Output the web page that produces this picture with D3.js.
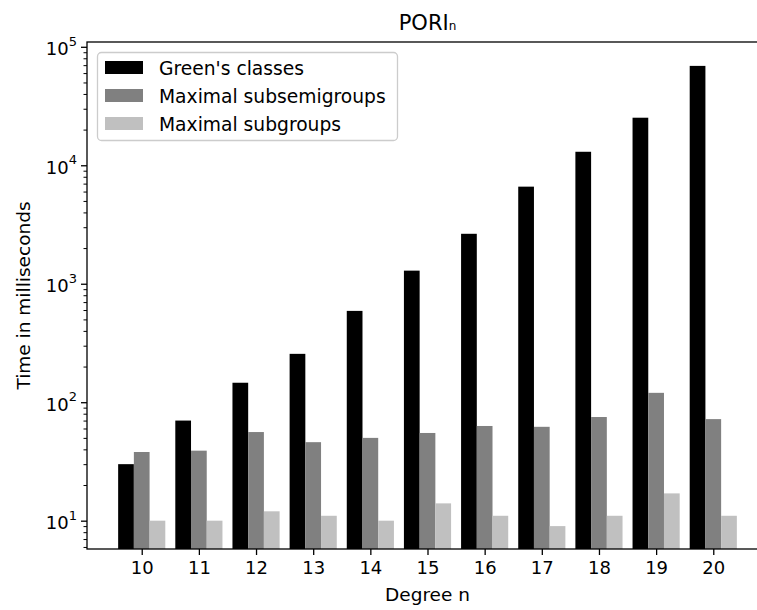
<!DOCTYPE html>
<html>
<head>
<meta charset="utf-8">
<script src="https://cdn.jsdelivr.net/npm/d3@7"></script>
<style>
  body { margin: 0; background: #fff; }
  svg { display: block; font-family: "DejaVu Sans", sans-serif; }
</style>
</head>
<body>
<div id="chart"></div>
<script>
// data
var degrees = [10, 11, 12, 13, 14, 15, 16, 17, 18, 19, 20];
var greens = [30, 70, 146, 256, 590, 1290, 2640, 6600, 13000, 25200, 69000];
var maxSubsemigroups = [38, 39, 56, 46, 50, 55, 63, 62, 75, 120, 72];
var maxSubgroups = [10, 10, 12, 11, 10, 14, 11, 9, 11, 17, 11];
var seriesNames = ["Green's classes", "Maximal subsemigroups", "Maximal subgroups"];
var seriesColors = ["#000000", "#808080", "#c0c0c0"];
var yTickValues = [10, 100, 1000, 10000, 100000];

(function(d3) {
  var series = [greens, maxSubsemigroups, maxSubgroups];

  var width = 757, height = 610;
  var left = 87, plotTop = 42, bottom = 549;
  var plotW = 681;
  var barW = 0.275;
  var pad = 0.9575;

  var svg = d3.select("#chart").append("svg")
      .attr("width", width)
      .attr("height", height);

  var x = d3.scaleLinear()
      .domain([d3.min(degrees) - pad, d3.max(degrees) + pad])
      .range([left, left + plotW]);

  var y = d3.scaleLog()
      .domain([Math.pow(10, 0.761), Math.pow(10, 5.0405)])
      .range([bottom, plotTop]);

  // bars
  svg.append("clipPath").attr("id", "plotclip")
      .append("rect")
      .attr("x", left).attr("y", plotTop)
      .attr("width", plotW).attr("height", bottom - plotTop);

  var barsG = svg.append("g").attr("clip-path", "url(#plotclip)");
  series.forEach(function(vals, k) {
    barsG.selectAll("rect.s" + k)
      .data(vals)
      .enter()
      .append("rect")
      .attr("class", "s" + k)
      .attr("x", function(d, i) { return x(degrees[i] + (k - 1) * barW - barW / 2); })
      .attr("width", x(barW) - x(0))
      .attr("y", function(d) { return y(d); })
      .attr("height", function(d) { return bottom - y(d); })
      .attr("fill", seriesColors[k]);
  });

  // x axis
  var xAxis = d3.axisBottom(x)
      .tickValues(degrees)
      .tickFormat(d3.format("d"))
      .tickSize(6)
      .tickPadding(6);

  var xg = svg.append("g")
      .attr("transform", "translate(0," + bottom + ")")
      .call(xAxis);
  xg.select(".domain").remove();
  xg.selectAll("line").attr("stroke", "#000").attr("stroke-width", 1.3);
  xg.selectAll("text")
      .attr("font-size", "18px")
      .attr("font-family", "DejaVu Sans")
      .attr("fill", "#000");

  // y axis: minor ticks
  var dom = y.domain();
  var minor = [];
  for (var e = 0; e <= 5; e++) {
    for (var m = 2; m <= 9; m++) {
      var v = m * Math.pow(10, e);
      if (v >= dom[0] && v <= dom[1]) minor.push(v);
    }
  }
  var yMinor = d3.axisLeft(y).tickValues(minor).tickSize(3.5).tickFormat("");
  var ymg = svg.append("g").attr("transform", "translate(" + left + ",0)").call(yMinor);
  ymg.select(".domain").remove();
  ymg.selectAll("line").attr("stroke", "#000").attr("stroke-width", 1);

  var yAxis = d3.axisLeft(y).tickValues(yTickValues).tickSize(6).tickFormat("");
  var yg = svg.append("g").attr("transform", "translate(" + left + ",0)").call(yAxis);
  yg.select(".domain").remove();
  yg.selectAll("line").attr("stroke", "#000").attr("stroke-width", 1.3);

  // y tick labels 10^k
  var ylab = yg.selectAll("g.tick").append("text")
      .attr("x", -10)
      .attr("y", 0)
      .attr("dy", "0.45em")
      .attr("text-anchor", "end")
      .attr("fill", "#000")
      .attr("font-size", "18px")
      .attr("font-family", "DejaVu Sans");
  ylab.append("tspan").text("10");
  ylab.append("tspan")
      .attr("font-size", "13px")
      .attr("dy", "-0.75em")
      .text(function(d) { return Math.round(Math.log10(d)); });

  // frame
  svg.append("rect")
      .attr("x", left).attr("y", plotTop)
      .attr("width", plotW).attr("height", bottom - plotTop)
      .attr("fill", "none")
      .attr("stroke", "#000")
      .attr("stroke-width", 1.3);

  // title
  var title = svg.append("text")
      .attr("x", left + plotW / 2)
      .attr("y", 30)
      .attr("text-anchor", "middle")
      .attr("font-size", "21px")
      .attr("fill", "#000");
  title.append("tspan").text("PORI");
  title.append("tspan").attr("font-size", "12px").text("n");

  // axis labels
  svg.append("text")
      .attr("x", left + plotW / 2)
      .attr("y", 601)
      .attr("text-anchor", "middle")
      .attr("font-size", "18.5px")
      .attr("fill", "#000")
      .text("Degree n");

  svg.append("text")
      .attr("transform", "translate(30," + ((plotTop + bottom) / 2) + ") rotate(-90)")
      .attr("text-anchor", "middle")
      .attr("font-size", "18.5px")
      .attr("fill", "#000")
      .text("Time in milliseconds");

  // legend
  var legend = svg.append("g");
  legend.append("rect")
      .attr("x", 97.5).attr("y", 52.5)
      .attr("width", 300).attr("height", 88)
      .attr("rx", 4)
      .attr("fill", "#fff")
      .attr("fill-opacity", 0.8)
      .attr("stroke", "#cccccc")
      .attr("stroke-width", 1.3);

  var items = legend.selectAll("g.item")
      .data(seriesNames)
      .enter()
      .append("g")
      .attr("transform", function(d, i) { return "translate(105," + (61 + i * 28) + ")"; });
  items.append("rect")
      .attr("width", 38).attr("height", 13)
      .attr("fill", function(d, i) { return seriesColors[i]; });
  items.append("text")
      .attr("x", 54)
      .attr("y", 13.5)
      .attr("font-size", "18.7px")
      .attr("fill", "#000")
      .text(function(d) { return d; });
})(window.d3);
</script>
</body>
</html>
